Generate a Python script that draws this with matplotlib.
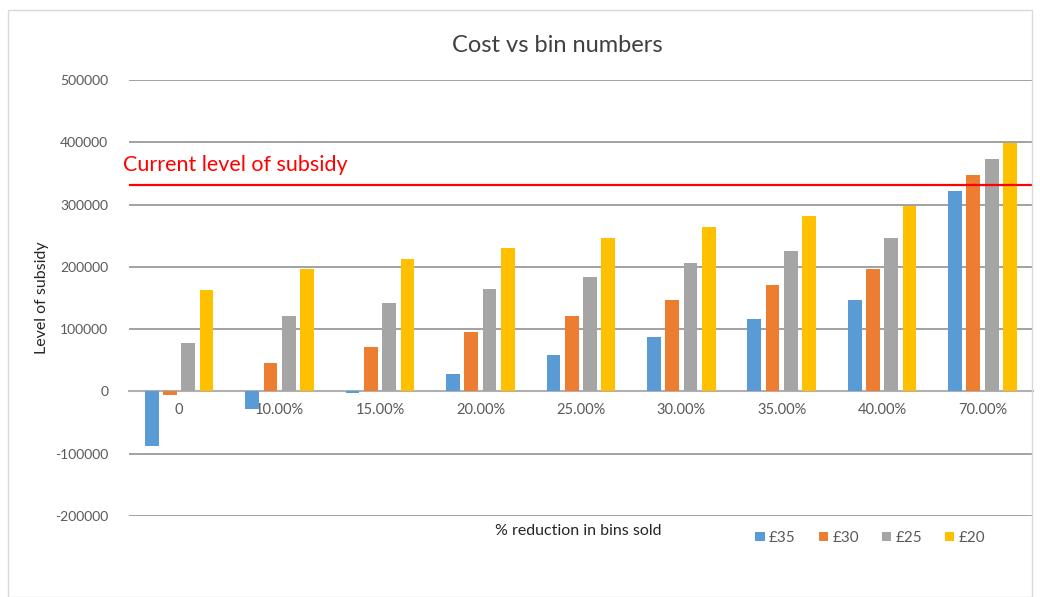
import numpy as np
import matplotlib
matplotlib.use("Agg")
from matplotlib import pyplot as plt
from matplotlib.patches import Rectangle

plt.rcParams['font.family'] = ['Lato', 'DejaVu Sans']

# chart data
categories = ['0', '10.00%', '15.00%', '20.00%', '25.00%', '30.00%', '35.00%', '40.00%', '70.00%']
series_names = ['£35', '£30', '£25', '£20']
vals_35 = [-88000, -29000, -2000, 28000, 58000, 87000, 117000, 147000, 322000]
vals_30 = [-5000, 45000, 71000, 96000, 121000, 147000, 171000, 196000, 348000]
vals_25 = [78000, 121000, 142000, 164000, 183000, 206000, 226000, 247000, 373000]
vals_20 = [163000, 197000, 213000, 231000, 247000, 264000, 281000, 298000, 399000]
current_subsidy = 331000
colors = ['#5B9BD5', '#ED7D31', '#A5A5A5', '#FFC000']

fig = plt.figure(figsize=(10.4, 5.97), dpi=100)
ax = fig.add_axes([0.124, 0.1357, 0.869, 0.7303])

# light frame round the whole chart, like the excel chart area
fig.patches.append(Rectangle((0.008, 0.0), 0.984, 0.983, transform=fig.transFigure,
                             fill=False, edgecolor='#d9d9d9', lw=1))

x = np.arange(len(categories))
step = 0.182
width = 0.137
all_vals = [vals_35, vals_30, vals_25, vals_20]
for i, (name, vals) in enumerate(zip(series_names, all_vals)):
  ax.bar(x + (i - 1.5) * step, vals, width, color=colors[i], label=name, zorder=3)

ax.set_xlim(-0.5, len(categories) - 0.5)
ax.set_ylim(-200000, 500000)
ax.set_yticks(np.arange(-200000, 500001, 100000))
ax.set_yticklabels([str(v) for v in range(-200000, 500001, 100000)])
ax.yaxis.grid(True, color='#9a9a9a', lw=1.3, zorder=0)
ax.set_axisbelow(True)

# category axis sits on the zero line
for s in ['top', 'right', 'left']:
  ax.spines[s].set_visible(False)
ax.spines['bottom'].set_position(('data', 0))
ax.spines['bottom'].set_color('#b0b0b0')
ax.spines['bottom'].set_linewidth(1.5)
ax.set_xticks(x)
ax.set_xticklabels(categories)
ax.tick_params(axis='x', length=0, pad=8, labelsize=10.5, labelcolor='#595959')
ax.tick_params(axis='y', length=0, pad=15, labelsize=10, labelcolor='#595959')

# current level of subsidy
ax.axhline(current_subsidy, color='#ff0000', lw=1.6, zorder=4)
fig.text(123 / 1040, 1 - 165 / 597, 'Current level of subsidy', color='#ff0000',
         fontsize=15.5, ha='left', va='center')

fig.text(557 / 1040, 1 - 45 / 597, 'Cost vs bin numbers', fontsize=17,
         color='#404040', ha='center', va='center')
fig.text(42 / 1040, 1 - 298 / 597, 'Level of subsidy', rotation=90, fontsize=11.5,
         color='#262626', ha='center', va='center')
fig.text(578 / 1040, 1 - 531 / 597, '% reduction in bins sold', fontsize=11.5,
         color='#262626', ha='center', va='center')

fig.legend(loc='center', bbox_to_anchor=(0.837, 1 - 538 / 597), ncol=4, frameon=False,
           fontsize=11, handlelength=0.6, handleheight=0.6, handletextpad=0.3,
           columnspacing=1.5, labelcolor='#595959')

fig.savefig('out.png', dpi=100)
